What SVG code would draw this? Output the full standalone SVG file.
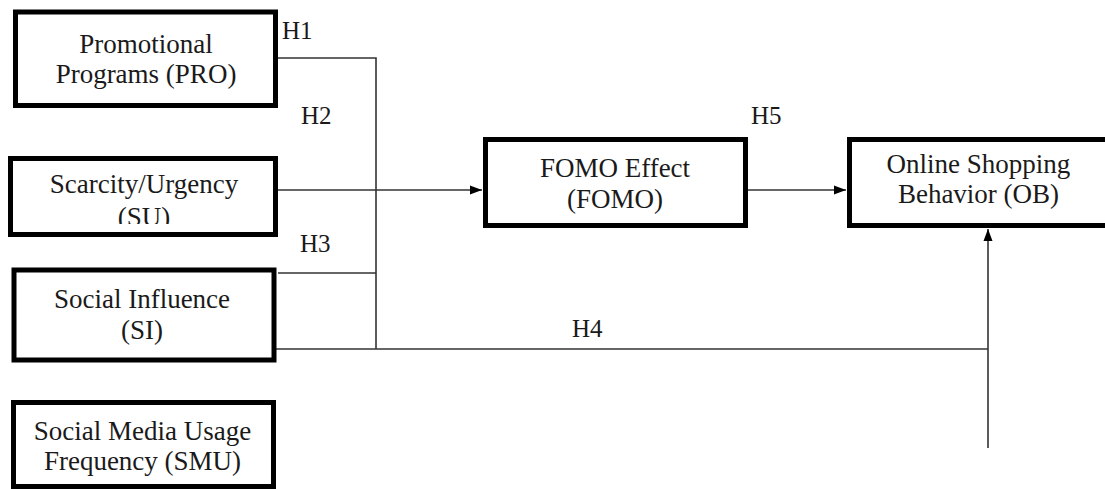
<svg xmlns="http://www.w3.org/2000/svg" width="1105" height="489" viewBox="0 0 1105 489">
<style>
.box{fill:#fff;stroke:#000;stroke-width:5}
.t{font-size:27px;fill:#1a1a1a;text-anchor:middle}
.h{font-size:25px;fill:#1a1a1a}
.ln{fill:none;stroke:#333;stroke-width:1.6}
</style>
<defs>
<marker id="arr" viewBox="0 0 12 10" refX="12" refY="5" markerWidth="12" markerHeight="10" markerUnits="userSpaceOnUse" orient="auto">
<path d="M0,0.5 L12,5 L0,9.5 z" fill="#000"/>
</marker>
<clipPath id="suclip"><rect x="0" y="150" width="300" height="74"/></clipPath>
</defs>
<rect width="1105" height="489" fill="#fff"/>
<g font-family="Liberation Serif, Times New Roman, serif">
<g id="connectors">
<polyline class="ln" points="278,58 376,58 376,349"/>
<line class="ln" x1="278" y1="273" x2="376" y2="273"/>
<line class="ln" x1="276" y1="349" x2="988" y2="349"/>
<line class="ln" x1="278" y1="190" x2="482" y2="190" marker-end="url(#arr)"/>
<line class="ln" x1="748" y1="190" x2="846" y2="190" marker-end="url(#arr)"/>
<line class="ln" x1="988" y1="448" x2="988" y2="229" marker-end="url(#arr)"/>
<text class="h" x="282" y="39">H1</text>
<text class="h" x="301" y="124">H2</text>
<text class="h" x="300" y="252">H3</text>
<text class="h" x="572" y="337">H4</text>
<text class="h" x="751" y="124">H5</text>
</g>
<g id="PRO">
<rect class="box" x="15.5" y="12" width="260" height="93.5"/>
<text class="t" x="146" y="53">Promotional</text>
<text class="t" x="146" y="83">Programs (PRO)</text>
</g>
<g id="SU">
<rect class="box" x="10.5" y="158.5" width="265" height="76"/>
<g clip-path="url(#suclip)">
<text class="t" x="144" y="193">Scarcity/Urgency</text>
<text class="t" x="144" y="226">(SU)</text>
</g>
</g>
<g id="SI">
<rect class="box" x="14" y="270" width="260" height="90"/>
<text class="t" x="142" y="308">Social Influence</text>
<text class="t" x="142" y="339">(SI)</text>
</g>
<g id="SMU">
<rect class="box" x="13.5" y="402.5" width="260" height="84"/>
<text class="t" x="142.5" y="440">Social Media Usage</text>
<text class="t" x="142.5" y="470">Frequency (SMU)</text>
</g>
<g id="FOMO">
<rect class="box" x="485.5" y="139.5" width="260" height="86"/>
<text class="t" x="615" y="177">FOMO Effect</text>
<text class="t" x="615" y="208">(FOMO)</text>
</g>
<g id="OB">
<rect class="box" x="849.5" y="139.5" width="262" height="86"/>
<text class="t" x="978.5" y="173">Online Shopping</text>
<text class="t" x="978.5" y="203">Behavior (OB)</text>
</g>
</g>
</svg>
